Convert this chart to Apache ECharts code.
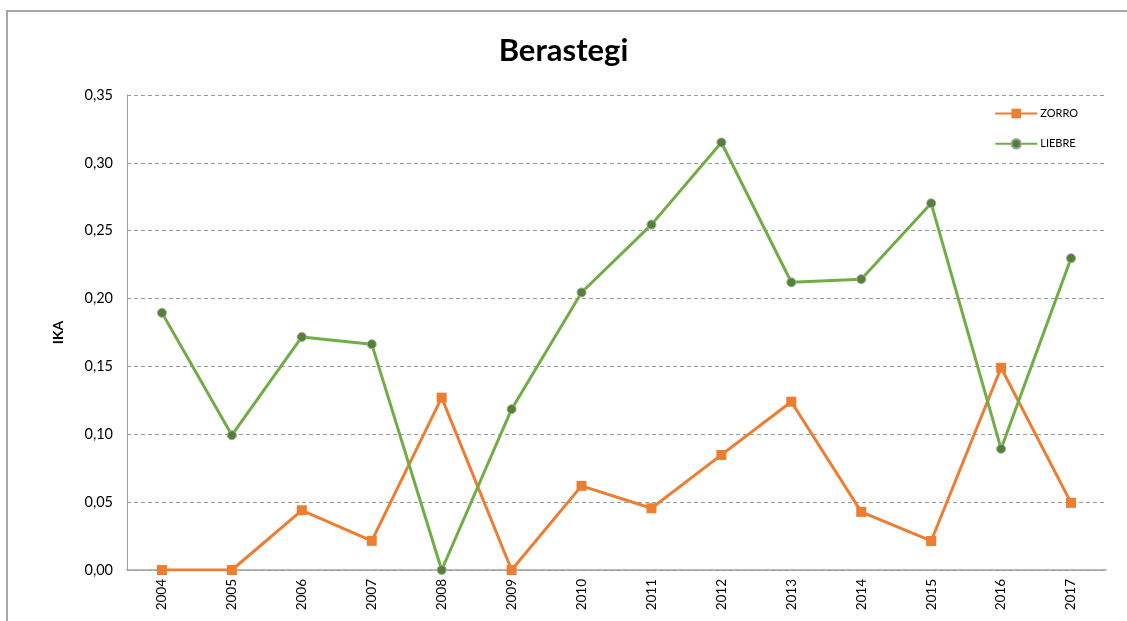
<!DOCTYPE html>
<html>
<head>
<meta charset="utf-8">
<script src="https://cdn.jsdelivr.net/npm/echarts@6/dist/echarts.min.js"></script>
<style>
html,body{margin:0;padding:0;background:#fff;}
#chart{width:1127px;height:621px;}
</style>
</head>
<body>
<div id="chart"></div>
<script>
var years = ['2004','2005','2006','2007','2008','2009','2010','2011','2012','2013','2014','2015','2016','2017'];
var zorro = [0, 0, 0.044, 0.0215, 0.127, 0, 0.062, 0.0455, 0.0848, 0.124, 0.0428, 0.0214, 0.149, 0.0495];
var liebre = [0.1895, 0.0993, 0.1717, 0.1664, 0, 0.1185, 0.2045, 0.2545, 0.315, 0.212, 0.2143, 0.2702, 0.0893, 0.2297];
var yTicks = [0, 0.05, 0.10, 0.15, 0.20, 0.25, 0.30, 0.35];

var FONT = 'Lato, "Open Sans", sans-serif';
var chart = echarts.init(document.getElementById('chart'));
chart.setOption({
  animation: false,
  backgroundColor: '#fff',
  graphic: [{
    type: 'rect',
    shape: {x: 7, y: 11, width: 1300, height: 800},
    style: {fill: 'none', stroke: '#a6a6a6', lineWidth: 2},
    silent: true, z: -10
  }],
  title: {
    text: 'Berastegi',
    left: 'center',
    top: 30,
    textStyle: {fontFamily: FONT, fontSize: 31, fontWeight: 'bold', color: '#000'}
  },
  legend: {
    orient: 'vertical',
    right: 44,
    top: 103,
    itemWidth: 42,
    itemHeight: 12,
    itemGap: 19,
    textStyle: {fontFamily: FONT, fontSize: 11, color: '#000', padding: [0, 0, 0, -2]},
    data: ['ZORRO', 'LIEBRE']
  },
  grid: {left: 127, right: 21, top: 95, bottom: 51, containLabel: false},
  xAxis: {
    type: 'category',
    data: years,
    boundaryGap: true,
    axisLine: {lineStyle: {color: '#9e9e9e', width: 1.5}},
    axisTick: {show: false},
    axisLabel: {rotate: 90, fontFamily: FONT, fontSize: 13.5, color: '#000', margin: 9}
  },
  yAxis: {
    type: 'value',
    min: 0, max: 0.35, interval: 0.05,
    name: 'IKA',
    nameLocation: 'middle',
    nameGap: 62,
    nameRotate: 90,
    nameTextStyle: {fontFamily: FONT, fontSize: 14, fontWeight: 'bold', color: '#000'},
    axisLine: {show: true, lineStyle: {color: '#9e9e9e', width: 1}},
    axisTick: {show: false},
    splitLine: {lineStyle: {color: '#9a9a9a', type: [4, 3], width: 1}},
    axisLabel: {
      fontFamily: FONT, fontSize: 14.5, color: '#000', margin: 14,
      formatter: function (v) {
        var t = yTicks.reduce(function (a, b) { return Math.abs(b - v) < Math.abs(a - v) ? b : a; });
        return t.toFixed(2).replace('.', ',');
      }
    }
  },
  series: [{
    name: 'ZORRO',
    type: 'line',
    data: zorro,
    symbol: 'rect',
    symbolSize: 10,
    lineStyle: {color: '#ED7D31', width: 3},
    itemStyle: {color: '#ED7D31', borderColor: '#ED7D31', borderWidth: 0},
    z: 2
  }, {
    name: 'LIEBRE',
    type: 'line',
    data: liebre,
    symbol: 'circle',
    symbolSize: 9,
    lineStyle: {color: '#70AD47', width: 3},
    itemStyle: {color: '#548235', borderColor: '#a5a5a5', borderWidth: 1},
    z: 3
  }]
});
</script>
</body>
</html>
